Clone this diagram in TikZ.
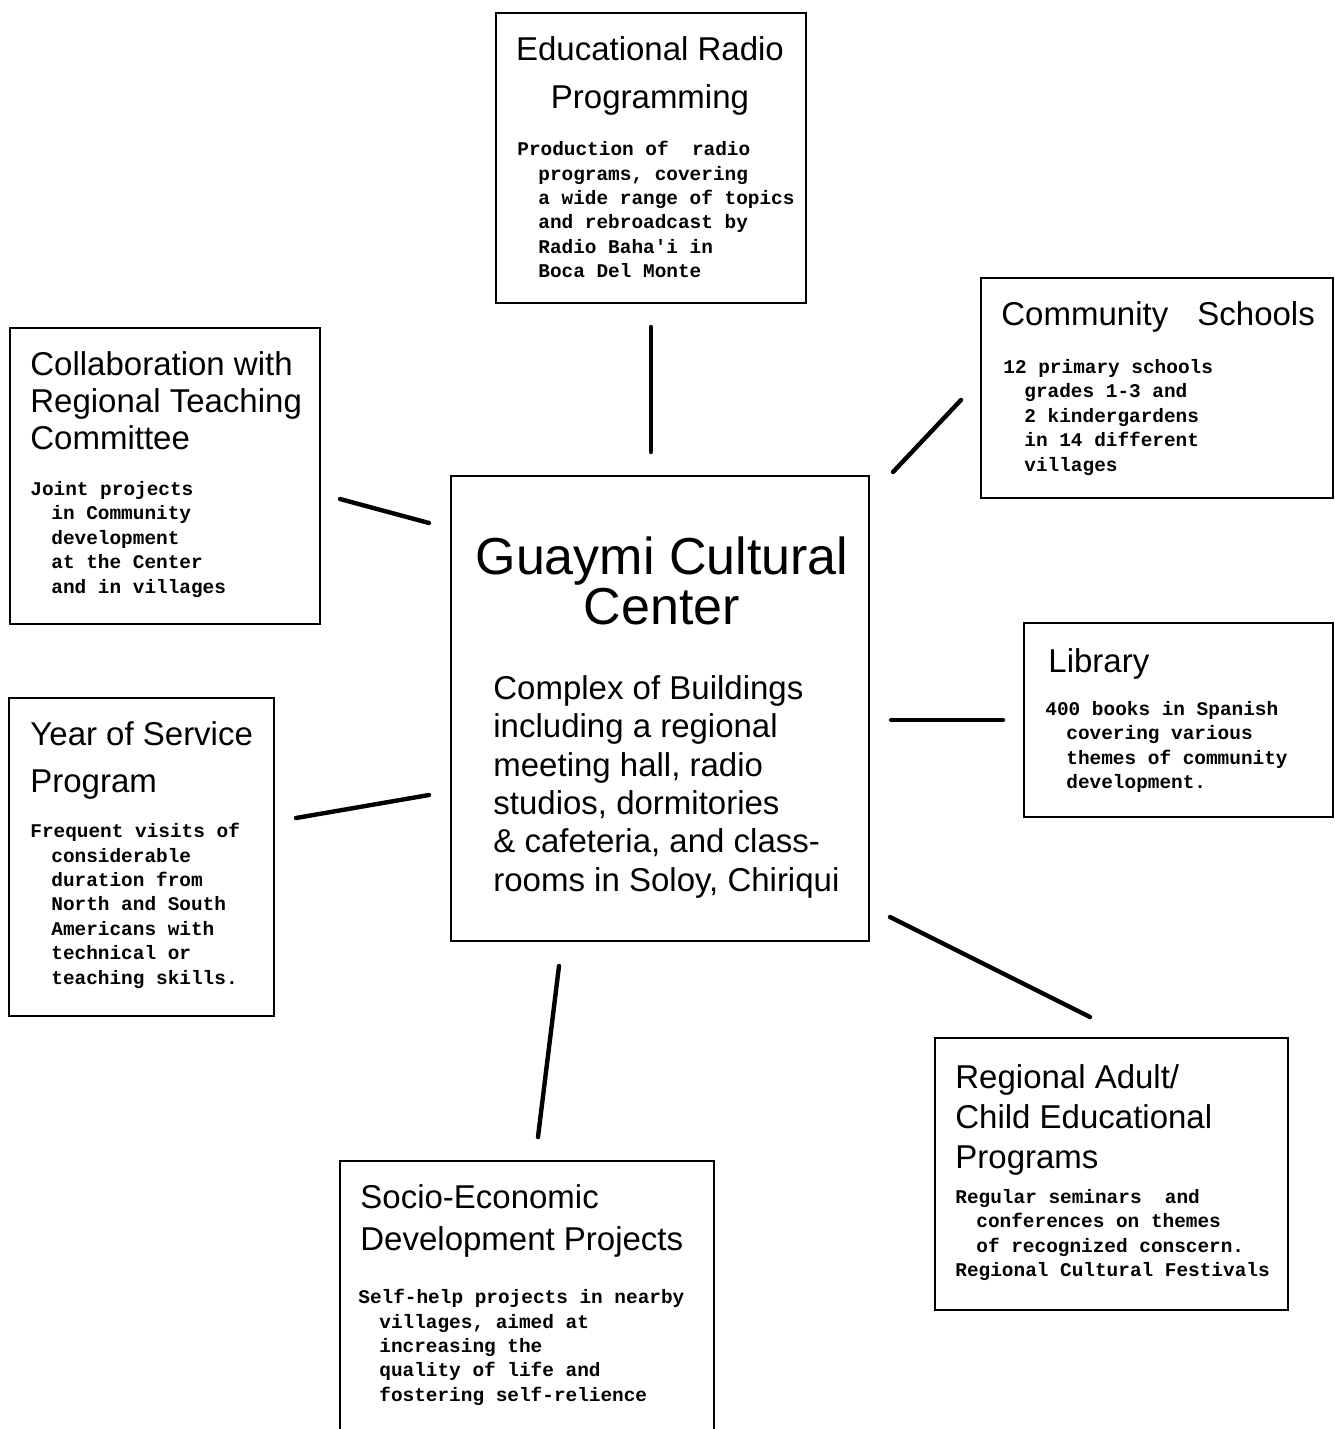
\documentclass[tikz,border=0pt]{standalone}
\usepackage{fontspec}
\setmainfont{Liberation Sans}
\newfontfamily\typefont{Liberation Mono}
\newcommand{\bodyindent}{\hspace*{10.5pt}}
\newcommand{\centerfont}{\fontsize{26}{25}\selectfont}
\tikzset{
  boxframe/.style={draw, line width=1pt, inner sep=0pt, anchor=north west},
  heading/.style={font=\fontsize{16.5}{#1}\selectfont, align=left, anchor=north west, inner sep=0pt},
  heading/.default=19pt,
  blurb/.style={font=\typefont\bfseries\fontsize{9.7}{12.2}\selectfont, align=left, anchor=north west, inner sep=0pt},
  link/.style={line width=2.2pt, line cap=round}
}

\begin{document}
\begin{tikzpicture}[x=0.5pt, y=-0.5pt]
  \useasboundingbox (0,0) rectangle (1334,1429);

  % Center
  \node[boxframe, minimum width=209pt, minimum height=232.5pt] (center) at (450,475) {};
  \node[anchor=north, align=center, inner sep=0pt, font=\centerfont] (centertitle) at (662,536) {Guaymi Cultural\\Center};
  \node[anchor=north west, align=left, inner sep=0pt, font=\fontsize{16.5}{19.2}\selectfont] (centertext) at (493,675)
    {Complex of Buildings\\including a regional\\meeting hall, radio\\studios, dormitories\\\& cafeteria, and class-\\rooms in Soloy, Chiriqui};

  % Radio
  \node[boxframe, minimum width=155pt, minimum height=145pt] (radio) at (495,12) {};
  \node[heading=24pt, anchor=north, align=center] (radiotitle) at (650,36) {Educational Radio\\Programming};
  \node[blurb] (radiotext) at (517,141)
    {Production of~ radio\\\bodyindent programs, covering\\\bodyindent a wide range of topics\\\bodyindent and rebroadcast by\\\bodyindent Radio Baha'i in\\\bodyindent Boca Del Monte};

  % Community schools
  \node[boxframe, minimum width=176pt, minimum height=110pt] (schools) at (980,277) {};
  \node[heading] (schoolstitle) at (1001,301) {Community\hspace{10pt} Schools};
  \node[blurb] (schoolstext) at (1003,359)
    {12 primary schools\\\bodyindent grades 1-3 and\\\bodyindent 2 kindergardens\\\bodyindent in 14 different\\\bodyindent villages};

  % Teaching committee
  \node[boxframe, minimum width=155pt, minimum height=148pt] (collab) at (9,327) {};
  \node[heading=18.5pt] (collabtitle) at (30,351) {Collaboration with\\Regional Teaching\\Committee};
  \node[blurb] (collabtext) at (30,481)
    {Joint projects\\\bodyindent in Community\\\bodyindent development\\\bodyindent at the Center\\\bodyindent and in villages};

  % Library
  \node[boxframe, minimum width=154.5pt, minimum height=97pt] (library) at (1023,622) {};
  \node[heading] (librarytitle) at (1048,648) {Library};
  \node[blurb] (librarytext) at (1045,701)
    {400 books in Spanish\\\bodyindent covering various\\\bodyindent themes of community\\\bodyindent development.};

  % Year of service
  \node[boxframe, minimum width=132.5pt, minimum height=159pt] (service) at (8,697) {};
  \node[heading=23.5pt] (servicetitle) at (30,721) {Year of Service\\Program};
  \node[blurb] (servicetext) at (30,823)
    {Frequent visits of\\\bodyindent considerable\\\bodyindent duration from\\\bodyindent North and South\\\bodyindent Americans with\\\bodyindent technical or\\\bodyindent teaching skills.};

  % Adult / child programs
  \node[boxframe, minimum width=176.5pt, minimum height=136pt] (adult) at (934,1037) {};
  \node[heading=20pt] (adulttitle) at (955,1064) {Regional Adult/\\Child Educational\\Programs};
  \node[blurb] (adulttext) at (955,1189)
    {Regular seminars~ and\\\bodyindent conferences on themes\\\bodyindent of recognized conscern.\\Regional Cultural Festivals};

  % Socio-economic projects
  \node[boxframe, minimum width=187pt, minimum height=150pt] (socio) at (339,1160) {};
  \node[heading=21pt] (sociotitle) at (360,1184) {Socio-Economic\\Development Projects};
  \node[blurb] (sociotext) at (358,1289)
    {Self-help projects in nearby\\\bodyindent villages, aimed at\\\bodyindent increasing the\\\bodyindent quality of life and\\\bodyindent fostering self-relience};

  % Links (they stop short of the boxes)
  \coordinate (radio a) at (651,452);   \coordinate (radio b) at (651,327);
  \coordinate (schools a) at (893,472); \coordinate (schools b) at (961,400);
  \coordinate (collab a) at (429,523);  \coordinate (collab b) at (340,499);
  \coordinate (library a) at (891,720); \coordinate (library b) at (1003,720);
  \coordinate (service a) at (429,795); \coordinate (service b) at (296,818);
  \coordinate (adult a) at (890,917);   \coordinate (adult b) at (1090,1017);
  \coordinate (socio a) at (559,966);   \coordinate (socio b) at (538,1137);
  \foreach \n in {radio, schools, collab, library, service, adult, socio}
    \draw[link] (\n\space a) -- (\n\space b);
\end{tikzpicture}
\end{document}
